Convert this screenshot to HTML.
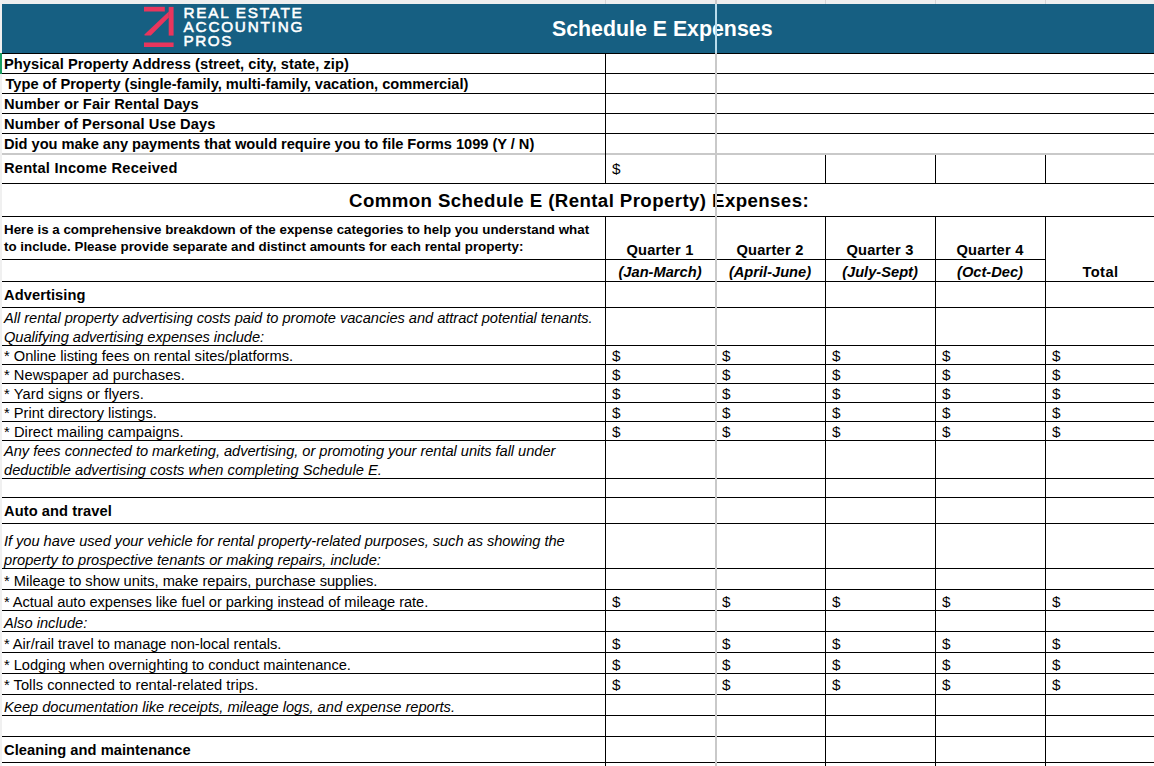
<!DOCTYPE html><html><head><meta charset='utf-8'><title>Schedule E Expenses</title><style>
html,body{margin:0;padding:0;}
body{width:1154px;height:766px;overflow:hidden;background:#fff;position:relative;font-family:"Liberation Sans",sans-serif;color:#000;}
.l{position:absolute;background:#000;}
.t{position:absolute;white-space:nowrap;font-size:14.67px;line-height:19px;}
.b{font-weight:bold;}
.i{font-style:italic;}
.c{text-align:center;}
</style></head><body>
<div style='position:absolute;left:0;top:0;width:1154px;height:4px;background:#eeeeee'></div>
<div style='position:absolute;left:0;top:0;width:2px;height:766px;background:#f0f0f0'></div>
<div style='position:absolute;left:2px;top:4px;width:1152px;height:49px;background:#165f82'></div>
<div style='position:absolute;left:0;top:53px;width:2px;height:21px;background:#1a9f63'></div>
<svg style='position:absolute;left:140px;top:4px' width='40' height='48' viewBox='140 4 40 48'>
<rect x='144' y='6.8' width='20.8' height='4.7' fill='#e8365d'/>
<rect x='168.7' y='6.9' width='4.9' height='28.7' fill='#e8365d'/>
<polygon points='168.8,11.4 168.8,17.4 150.8,35.6 144.6,35.6 144.4,34.6' fill='#e8365d'/>
<rect x='144' y='42.5' width='29.6' height='4.5' fill='#e8365d'/>
</svg>
<div class='t' style='left:183.6px;top:4px;color:#fff;font-size:15.3px;letter-spacing:1.720px;line-height:18px;word-spacing:0px;-webkit-text-stroke:0.55px #fff'>REAL ESTATE</div>
<div class='t' style='left:183.6px;top:18px;color:#fff;font-size:15.3px;letter-spacing:1.770px;line-height:18px;word-spacing:0px;-webkit-text-stroke:0.55px #fff'>ACCOUNTING</div>
<div class='t' style='left:183.6px;top:32px;color:#fff;font-size:15.3px;letter-spacing:1.500px;line-height:18px;word-spacing:0px;-webkit-text-stroke:0.55px #fff'>PROS</div>
<div class='t b' style='left:552px;top:17px;color:#fff;font-size:21.33px;line-height:24px'>Schedule E Expenses</div>
<div class='l' style='left:2px;top:53px;width:1152px;height:1px'></div>
<div class='l' style='left:2px;top:73px;width:1152px;height:1px'></div>
<div class='l' style='left:2px;top:93px;width:1152px;height:1px'></div>
<div class='l' style='left:2px;top:113px;width:1152px;height:1px'></div>
<div class='l' style='left:2px;top:133px;width:1152px;height:1px'></div>
<div class='l' style='left:2px;top:183px;width:1152px;height:1px'></div>
<div class='l' style='left:2px;top:216px;width:1152px;height:1px'></div>
<div class='l' style='left:2px;top:259px;width:1043px;height:1px'></div>
<div class='l' style='left:2px;top:281px;width:1152px;height:1px'></div>
<div class='l' style='left:2px;top:307px;width:1152px;height:1px'></div>
<div class='l' style='left:2px;top:345px;width:1152px;height:1px'></div>
<div class='l' style='left:2px;top:364px;width:1152px;height:1px'></div>
<div class='l' style='left:2px;top:383px;width:1152px;height:1px'></div>
<div class='l' style='left:2px;top:402px;width:1152px;height:1px'></div>
<div class='l' style='left:2px;top:421px;width:1152px;height:1px'></div>
<div class='l' style='left:2px;top:440px;width:1152px;height:1px'></div>
<div class='l' style='left:2px;top:478px;width:1152px;height:1px'></div>
<div class='l' style='left:2px;top:497px;width:1152px;height:1px'></div>
<div class='l' style='left:2px;top:523px;width:1152px;height:1px'></div>
<div class='l' style='left:2px;top:568px;width:1152px;height:1px'></div>
<div class='l' style='left:2px;top:589px;width:1152px;height:1px'></div>
<div class='l' style='left:2px;top:610px;width:1152px;height:1px'></div>
<div class='l' style='left:2px;top:631px;width:1152px;height:1px'></div>
<div class='l' style='left:2px;top:652px;width:1152px;height:1px'></div>
<div class='l' style='left:2px;top:673px;width:1152px;height:1px'></div>
<div class='l' style='left:2px;top:694px;width:1152px;height:1px'></div>
<div class='l' style='left:2px;top:715px;width:1152px;height:1px'></div>
<div class='l' style='left:2px;top:736px;width:1152px;height:1px'></div>
<div class='l' style='left:2px;top:762px;width:1152px;height:1px'></div>
<div style='position:absolute;left:2px;top:153px;width:1152px;height:2px;background:#c9c9c9'></div>
<div class='l' style='left:605px;top:53px;width:1px;height:130px'></div>
<div class='l' style='left:605px;top:216px;width:1px;height:550px'></div>
<div class='l' style='left:825px;top:155px;width:1px;height:28px'></div>
<div class='l' style='left:825px;top:216px;width:1px;height:550px'></div>
<div class='l' style='left:935px;top:155px;width:1px;height:28px'></div>
<div class='l' style='left:935px;top:216px;width:1px;height:550px'></div>
<div class='l' style='left:1045px;top:155px;width:1px;height:28px'></div>
<div class='l' style='left:1045px;top:216px;width:1px;height:550px'></div>
<div style='position:absolute;left:605px;top:0px;width:1px;height:4px;background:#d4d4d4'></div>
<div style='position:absolute;left:825px;top:0px;width:1px;height:4px;background:#d4d4d4'></div>
<div style='position:absolute;left:935px;top:0px;width:1px;height:4px;background:#d4d4d4'></div>
<div style='position:absolute;left:1045px;top:0px;width:1px;height:4px;background:#d4d4d4'></div>
<div class='t b' style='left:4px;top:55px;letter-spacing:0.037px;'>Physical Property Address (street, city, state, zip)</div>
<div class='t b' style='left:5.5px;top:75px;letter-spacing:-0.021px;'>Type of Property (single-family, multi-family, vacation, commercial)</div>
<div class='t b' style='left:4px;top:95px;letter-spacing:0.068px;'>Number or Fair Rental Days</div>
<div class='t b' style='left:4px;top:115px;letter-spacing:0.077px;'>Number of Personal Use Days</div>
<div class='t b' style='left:4px;top:135px;letter-spacing:-0.039px;'>Did you make any payments that would require you to file Forms 1099 (Y / N)</div>
<div class='t b' style='left:4px;top:159px;letter-spacing:0.229px;'>Rental Income Received</div>
<div class='t b' style='left:4px;top:286px;letter-spacing:0.080px;'>Advertising</div>
<div class='t b' style='left:4px;top:502px;letter-spacing:0.079px;'>Auto and travel</div>
<div class='t b' style='left:4px;top:741px;letter-spacing:0.043px;'>Cleaning and maintenance</div>
<div class='t b' style='left:349px;top:189px;font-size:18.67px;line-height:24px;letter-spacing:0.409px;'>Common Schedule E (Rental Property) Expenses:</div>
<div class='t b' style='left:4px;top:220px;font-size:13.33px;letter-spacing:0.017px;'>Here is a comprehensive breakdown of the expense categories to help you understand what</div>
<div class='t b' style='left:4px;top:237px;font-size:13.33px;letter-spacing:0.011px;'>to include. Please provide separate and distinct amounts for each rental property:</div>
<div class='t i' style='left:4px;top:309px;letter-spacing:-0.039px;'>All rental property advertising costs paid to promote vacancies and attract potential tenants.</div>
<div class='t i' style='left:4px;top:328px;letter-spacing:-0.036px;'>Qualifying advertising expenses include:</div>
<div class='t i' style='left:4px;top:442px;letter-spacing:-0.049px;'>Any fees connected to marketing, advertising, or promoting your rental units fall under</div>
<div class='t i' style='left:4px;top:461px;letter-spacing:0.011px;'>deductible advertising costs when completing Schedule E.</div>
<div class='t i' style='left:4px;top:532px;letter-spacing:-0.045px;'>If you have used your vehicle for rental property-related purposes, such as showing the</div>
<div class='t i' style='left:4px;top:551px;letter-spacing:-0.005px;'>property to prospective tenants or making repairs, include:</div>
<div class='t i' style='left:4px;top:614px;letter-spacing:0.017px;'>Also include:</div>
<div class='t i' style='left:4px;top:698px;letter-spacing:-0.018px;'>Keep documentation like receipts, mileage logs, and expense reports.</div>
<div class='t ' style='left:4px;top:347px;letter-spacing:-0.002px;'>* Online listing fees on rental sites/platforms.</div>
<div class='t ' style='left:4px;top:366px;letter-spacing:0.029px;'>* Newspaper ad purchases.</div>
<div class='t ' style='left:4px;top:385px;letter-spacing:0.086px;'>* Yard signs or flyers.</div>
<div class='t ' style='left:4px;top:404px;letter-spacing:-0.012px;'>* Print directory listings.</div>
<div class='t ' style='left:4px;top:423px;letter-spacing:0.073px;'>* Direct mailing campaigns.</div>
<div class='t ' style='left:4px;top:572px;letter-spacing:-0.009px;'>* Mileage to show units, make repairs, purchase supplies.</div>
<div class='t ' style='left:4px;top:593px;letter-spacing:-0.064px;'>* Actual auto expenses like fuel or parking instead of mileage rate.</div>
<div class='t ' style='left:4px;top:635px;letter-spacing:-0.047px;'>* Air/rail travel to manage non-local rentals.</div>
<div class='t ' style='left:4px;top:656px;letter-spacing:-0.036px;'>* Lodging when overnighting to conduct maintenance.</div>
<div class='t ' style='left:4px;top:676px;letter-spacing:0.029px;'>* Tolls connected to rental-related trips.</div>
<div class='t b c' style='left:605px;width:110px;top:241px;letter-spacing:0.2px'>Quarter 1</div>
<div class='t b i c' style='left:605px;width:110px;top:263px'>(Jan-March)</div>
<div class='t b c' style='left:715px;width:110px;top:241px;letter-spacing:0.2px'>Quarter 2</div>
<div class='t b i c' style='left:715px;width:110px;top:263px'>(April-June)</div>
<div class='t b c' style='left:825px;width:110px;top:241px;letter-spacing:0.2px'>Quarter 3</div>
<div class='t b i c' style='left:825px;width:110px;top:263px'>(July-Sept)</div>
<div class='t b c' style='left:935px;width:110px;top:241px;letter-spacing:0.2px'>Quarter 4</div>
<div class='t b i c' style='left:935px;width:110px;top:263px'>(Oct-Dec)</div>
<div class='t b c' style='left:1045px;width:111px;top:263px;letter-spacing:0.45px'>Total</div>
<div class='t' style='left:612px;top:159px;font-size:15.3px'>$</div>
<div class='t' style='left:612px;top:346px;font-size:15.3px'>$</div>
<div class='t' style='left:722px;top:346px;font-size:15.3px'>$</div>
<div class='t' style='left:832px;top:346px;font-size:15.3px'>$</div>
<div class='t' style='left:942px;top:346px;font-size:15.3px'>$</div>
<div class='t' style='left:1052px;top:346px;font-size:15.3px'>$</div>
<div class='t' style='left:612px;top:365px;font-size:15.3px'>$</div>
<div class='t' style='left:722px;top:365px;font-size:15.3px'>$</div>
<div class='t' style='left:832px;top:365px;font-size:15.3px'>$</div>
<div class='t' style='left:942px;top:365px;font-size:15.3px'>$</div>
<div class='t' style='left:1052px;top:365px;font-size:15.3px'>$</div>
<div class='t' style='left:612px;top:384px;font-size:15.3px'>$</div>
<div class='t' style='left:722px;top:384px;font-size:15.3px'>$</div>
<div class='t' style='left:832px;top:384px;font-size:15.3px'>$</div>
<div class='t' style='left:942px;top:384px;font-size:15.3px'>$</div>
<div class='t' style='left:1052px;top:384px;font-size:15.3px'>$</div>
<div class='t' style='left:612px;top:403px;font-size:15.3px'>$</div>
<div class='t' style='left:722px;top:403px;font-size:15.3px'>$</div>
<div class='t' style='left:832px;top:403px;font-size:15.3px'>$</div>
<div class='t' style='left:942px;top:403px;font-size:15.3px'>$</div>
<div class='t' style='left:1052px;top:403px;font-size:15.3px'>$</div>
<div class='t' style='left:612px;top:422px;font-size:15.3px'>$</div>
<div class='t' style='left:722px;top:422px;font-size:15.3px'>$</div>
<div class='t' style='left:832px;top:422px;font-size:15.3px'>$</div>
<div class='t' style='left:942px;top:422px;font-size:15.3px'>$</div>
<div class='t' style='left:1052px;top:422px;font-size:15.3px'>$</div>
<div class='t' style='left:612px;top:592px;font-size:15.3px'>$</div>
<div class='t' style='left:722px;top:592px;font-size:15.3px'>$</div>
<div class='t' style='left:832px;top:592px;font-size:15.3px'>$</div>
<div class='t' style='left:942px;top:592px;font-size:15.3px'>$</div>
<div class='t' style='left:1052px;top:592px;font-size:15.3px'>$</div>
<div class='t' style='left:612px;top:634px;font-size:15.3px'>$</div>
<div class='t' style='left:722px;top:634px;font-size:15.3px'>$</div>
<div class='t' style='left:832px;top:634px;font-size:15.3px'>$</div>
<div class='t' style='left:942px;top:634px;font-size:15.3px'>$</div>
<div class='t' style='left:1052px;top:634px;font-size:15.3px'>$</div>
<div class='t' style='left:612px;top:655px;font-size:15.3px'>$</div>
<div class='t' style='left:722px;top:655px;font-size:15.3px'>$</div>
<div class='t' style='left:832px;top:655px;font-size:15.3px'>$</div>
<div class='t' style='left:942px;top:655px;font-size:15.3px'>$</div>
<div class='t' style='left:1052px;top:655px;font-size:15.3px'>$</div>
<div class='t' style='left:612px;top:675px;font-size:15.3px'>$</div>
<div class='t' style='left:722px;top:675px;font-size:15.3px'>$</div>
<div class='t' style='left:832px;top:675px;font-size:15.3px'>$</div>
<div class='t' style='left:942px;top:675px;font-size:15.3px'>$</div>
<div class='t' style='left:1052px;top:675px;font-size:15.3px'>$</div>
<div style='position:absolute;left:715px;top:0px;width:2px;height:766px;background:#c9c9c9'></div>
<div style='position:absolute;left:715px;top:4px;width:2px;height:49px;background:#b9dcec'></div>
</body></html>
